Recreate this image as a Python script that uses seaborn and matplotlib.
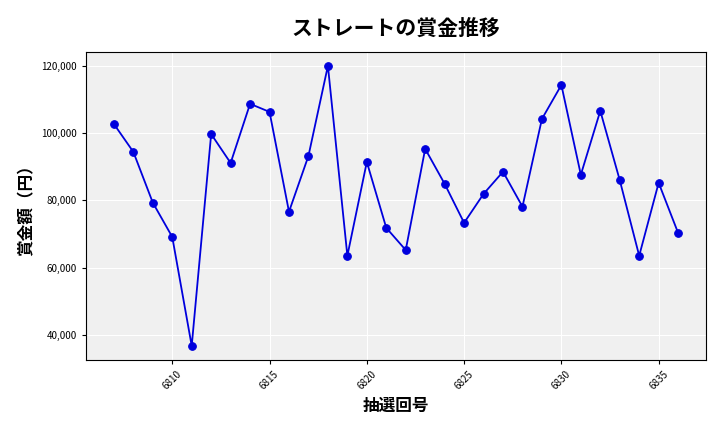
import matplotlib
matplotlib.use("Agg")
import matplotlib.pyplot as plt
import seaborn as sns
import pandas as pd
from matplotlib.ticker import FuncFormatter

draws = list(range(6807, 6837))
prizes = [102700, 94400, 79300, 69100, 36700, 99700, 91100, 108700, 106300, 76600,
          93200, 120000, 63500, 91400, 71800, 65200, 95300, 84900, 73300, 81900,
          88500, 78100, 104200, 114300, 87600, 106600, 86000, 63500, 85200, 70300]

sns.set_style("darkgrid", {"axes.facecolor": "#f0f0f0", "grid.color": "white",
                           "text.color": "black", "axes.labelcolor": "black",
                           "xtick.color": "black", "ytick.color": "black",
                           "xtick.bottom": True, "ytick.left": True})
plt.rcParams['font.family'] = ['Noto Sans CJK JP', 'DejaVu Sans']

df = pd.DataFrame({"draw": draws, "prize": prizes})
fig, ax = plt.subplots(figsize=(7.2, 4.32), dpi=100)
fig.subplots_adjust(left=0.119, right=0.981, top=0.88, bottom=0.167)
sns.lineplot(data=df, x="draw", y="prize", color="#0000dd", marker="o",
             markersize=5.5, markeredgecolor="#0000dd", linewidth=1.3, ax=ax)
for s in ax.spines.values():
    s.set_visible(True); s.set_color("black"); s.set_linewidth(0.8)
ax.set_title("ストレートの賞金推移", fontsize=15, fontweight="bold", pad=12, color="black")
ax.set_xlabel("抽選回号", fontsize=12, fontweight="bold", color="black")
ax.set_ylabel("賞金額（円）", fontsize=12, fontweight="bold", color="black")
ax.set_xticks([6810, 6815, 6820, 6825, 6830, 6835])
ax.yaxis.set_major_formatter(FuncFormatter(lambda v, p: f"{int(v):,}"))
ax.tick_params(axis="x", labelsize=7, rotation=45, colors="black", length=3)
ax.tick_params(axis="y", labelsize=7, colors="black", length=3)
fig.savefig("out.png", dpi=100)
